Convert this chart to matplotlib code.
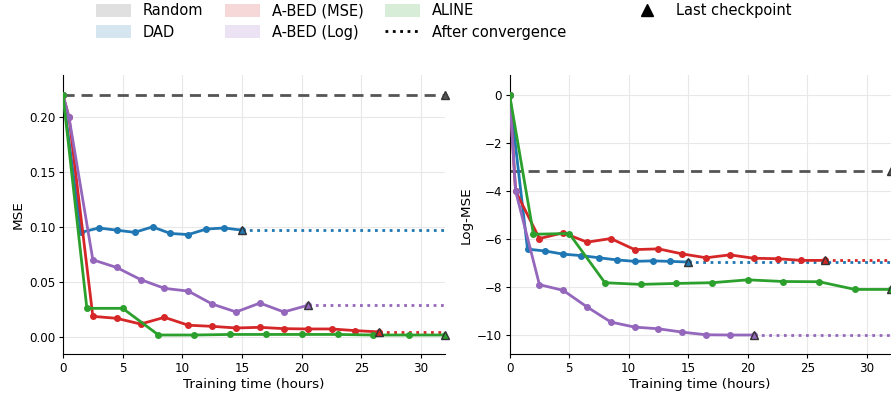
import matplotlib
matplotlib.use("Agg")
import matplotlib.pyplot as plt
from matplotlib.patches import Patch
from matplotlib.lines import Line2D

# training time (hours) at each checkpoint
t_dad = [0, 1.5, 3, 4.5, 6, 7.5, 9, 10.5, 12, 13.5, 15]
t_mse = [0, 0.5, 2.5, 4.5, 6.5, 8.5, 10.5, 12.5, 14.5, 16.5, 18.5, 20.5, 22.5, 24.5, 26.5]
t_log = [0, 0.5, 2.5, 4.5, 6.5, 8.5, 10.5, 12.5, 14.5, 16.5, 18.5, 20.5]
t_aline = [0, 2, 5, 8, 11, 14, 17, 20, 23, 26, 29, 32]
t_end = 32

# left panel: MSE
random_mse = 0.22
dad_mse = [0.22, 0.095, 0.099, 0.097, 0.095, 0.100, 0.094, 0.093, 0.098, 0.099, 0.097]
abed_mse_mse = [0.22, 0.20, 0.0185, 0.0167, 0.0115, 0.0176, 0.0104, 0.0094, 0.0079,
                0.0085, 0.0073, 0.0070, 0.0070, 0.0055, 0.0043]
abed_log_mse = [0.22, 0.20, 0.070, 0.063, 0.052, 0.044, 0.0415, 0.0297, 0.0225,
                0.0306, 0.0225, 0.0285]
aline_mse = [0.22, 0.0258, 0.0258, 0.0015, 0.0015, 0.002, 0.002, 0.002, 0.002,
             0.0015, 0.0015, 0.0015]

# right panel: Log-MSE
random_log = -3.15
dad_log = [0, -6.42, -6.50, -6.63, -6.69, -6.78, -6.87, -6.93, -6.91, -6.93, -6.96]
abed_mse_log = [0, -4.0, -5.98, -5.74, -6.13, -5.98, -6.44, -6.41, -6.62, -6.78,
                -6.66, -6.80, -6.82, -6.89, -6.89]
abed_log_log = [0, -4.0, -7.9, -8.14, -8.83, -9.46, -9.67, -9.74, -9.88, -9.99,
                -10.0, -10.0]
aline_log = [0, -5.80, -5.77, -7.82, -7.89, -7.85, -7.82, -7.70, -7.77, -7.78,
             -8.10, -8.10]

names = ["DAD", "A-BED (MSE)", "A-BED (Log)", "ALINE"]
colors = ["tab:blue", "tab:red", "tab:purple", "tab:green"]
times = [t_dad, t_mse, t_log, t_aline]
gray = "#555555"


def draw_panel(ax, random_val, series, ylabel, yticks):
    ax.plot([0, t_end], [random_val, random_val], ls="--", color=gray, lw=2,
            dashes=(4, 2.5))
    ax.plot(t_end, random_val, marker="^", color=gray, ms=6, mec="#333333",
            clip_on=False)
    for t, y, c in zip(times, series, colors):
        ax.plot(t, y, marker="o", ms=4, lw=2, color=c, zorder=3)
        if t[-1] < t_end:
            ax.plot([t[-1], t_end], [y[-1], y[-1]], ls=":", lw=2, color=c)
        ax.plot(t[-1], y[-1], marker="^", ms=6, color=c, mec="#333333",
                zorder=4, clip_on=False)
    ax.set_xlim(0, t_end)
    ax.set_xticks([0, 5, 10, 15, 20, 25, 30])
    ax.set_yticks(yticks)
    ax.set_xlabel("Training time (hours)", fontsize=9.7, labelpad=2)
    ax.set_ylabel(ylabel, fontsize=9.7, labelpad=3)
    ax.grid(True, color="#e8e8e8", lw=0.8)
    ax.set_axisbelow(True)
    ax.spines["top"].set_visible(False)
    ax.spines["right"].set_visible(False)
    ax.tick_params(labelsize=8.6, length=3, pad=2.5)


fig = plt.figure(figsize=(8.91, 3.98), dpi=100)
ax1 = fig.add_axes([0.0707, 0.110, 0.4287, 0.7006])
ax2 = fig.add_axes([0.572, 0.110, 0.4276, 0.7006])

draw_panel(ax1, random_mse, [dad_mse, abed_mse_mse, abed_log_mse, aline_mse],
           "MSE", [0.0, 0.05, 0.10, 0.15, 0.20])
ax1.set_ylim(-0.016, 0.238)
draw_panel(ax2, random_log, [dad_log, abed_mse_log, abed_log_log, aline_log],
           "Log-MSE", [0, -2, -4, -6, -8, -10])
ax2.set_ylim(-10.8, 0.82)

handles = [Patch(facecolor=gray, edgecolor="none", alpha=0.18, label="Random")]
handles += [Patch(facecolor=c, edgecolor="none", alpha=0.18, label=n)
            for n, c in zip(names, colors)]
handles.append(Line2D([], [], ls=":", lw=2, color="black", label="After convergence"))
fig.legend(handles=handles, loc="upper left", ncol=3, frameon=False,
           fontsize=10.5, bbox_to_anchor=(0.093, 1.025), columnspacing=1.5,
           handlelength=2.4, handleheight=1.0, labelspacing=0.45,
           handletextpad=0.8)
last = [Line2D([], [], ls="", marker="^", ms=8, color="black", label="Last checkpoint")]
fig.legend(handles=last, loc="upper left", frameon=False, fontsize=10.5,
           bbox_to_anchor=(0.692, 1.025), handlelength=2.4, handletextpad=0.8)

fig.savefig("out.png", dpi=100)
